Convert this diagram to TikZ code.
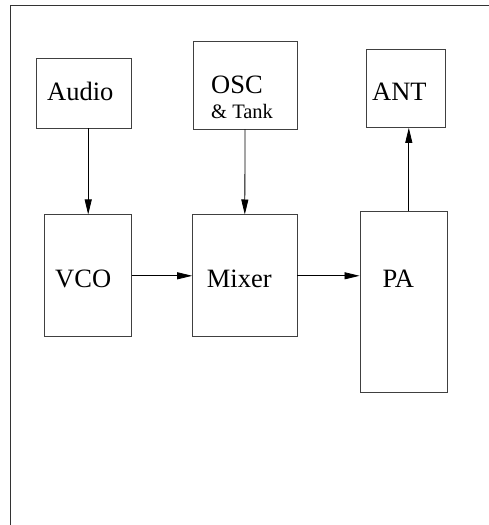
\documentclass[tikz,border=0pt]{standalone}
\usepackage{fontspec}
\setmainfont{Liberation Serif}
\usetikzlibrary{arrows.meta}
\tikzset{
  blk/.style={draw=black!75, line width=0.9bp, inner sep=0pt, anchor=center},
  lbl/.style={inner sep=0pt, anchor=base west, font=\fontsize{26.5bp}{30bp}\selectfont},
  sml/.style={inner sep=0pt, anchor=base west, font=\fontsize{20.5bp}{24bp}\selectfont},
  conn/.style={draw=black, line width=0.8bp, -{Triangle[length=15bp,width=7bp]}},
  frame/.style={draw=black!80, line width=1bp}
}
\begin{document}
\begin{tikzpicture}[x=1bp,y=-1bp]
\useasboundingbox (0,0) rectangle (489,525);
\coordinate (fb) at (10,525);
\coordinate (ftl) at (10,6);
\coordinate (fr) at (489,6);
\draw[frame] (fb) -- (ftl) -- (fr);

\node[blk, minimum width=95bp, minimum height=70bp] (audio) at (83.5,93) {};
\node[blk, minimum width=104bp, minimum height=88bp] (osc) at (245,85) {};
\node[blk, minimum width=79bp, minimum height=78bp] (ant) at (406,88.4) {};
\node[blk, minimum width=87bp, minimum height=121.7bp] (vco) at (88.2,275.8) {};
\node[blk, minimum width=104.3bp, minimum height=121.7bp] (mixer) at (244.8,275.8) {};
\node[blk, minimum width=87bp, minimum height=180.3bp] (pa) at (403.5,301.8) {};

\node[lbl] (taudio) at (47,100.7) {Audio};
\node[lbl] (tosc) at (211,94) {OSC};
\node[sml] (ttank) at (211,119) {\& Tank};
\node[lbl] (tant) at (372,101) {ANT};
\node[lbl] (tvco) at (55,287.3) {VCO};
\node[lbl] (tmixer) at (206.7,287.3) {Mixer};
\node[lbl] (tpa) at (382.3,287.3) {PA};

\draw[conn] (audio.south -| vco.north) -- (vco.north);
\draw[conn] (osc.south) -- (mixer.north);
\draw[conn] (vco.east) -- (mixer.west);
\draw[conn] (mixer.east) -- (mixer.east -| pa.west);
\draw[conn] ([xshift=5.3bp]pa.north) -- ([xshift=5.3bp]pa.north |- ant.south);
\end{tikzpicture}
\end{document}
